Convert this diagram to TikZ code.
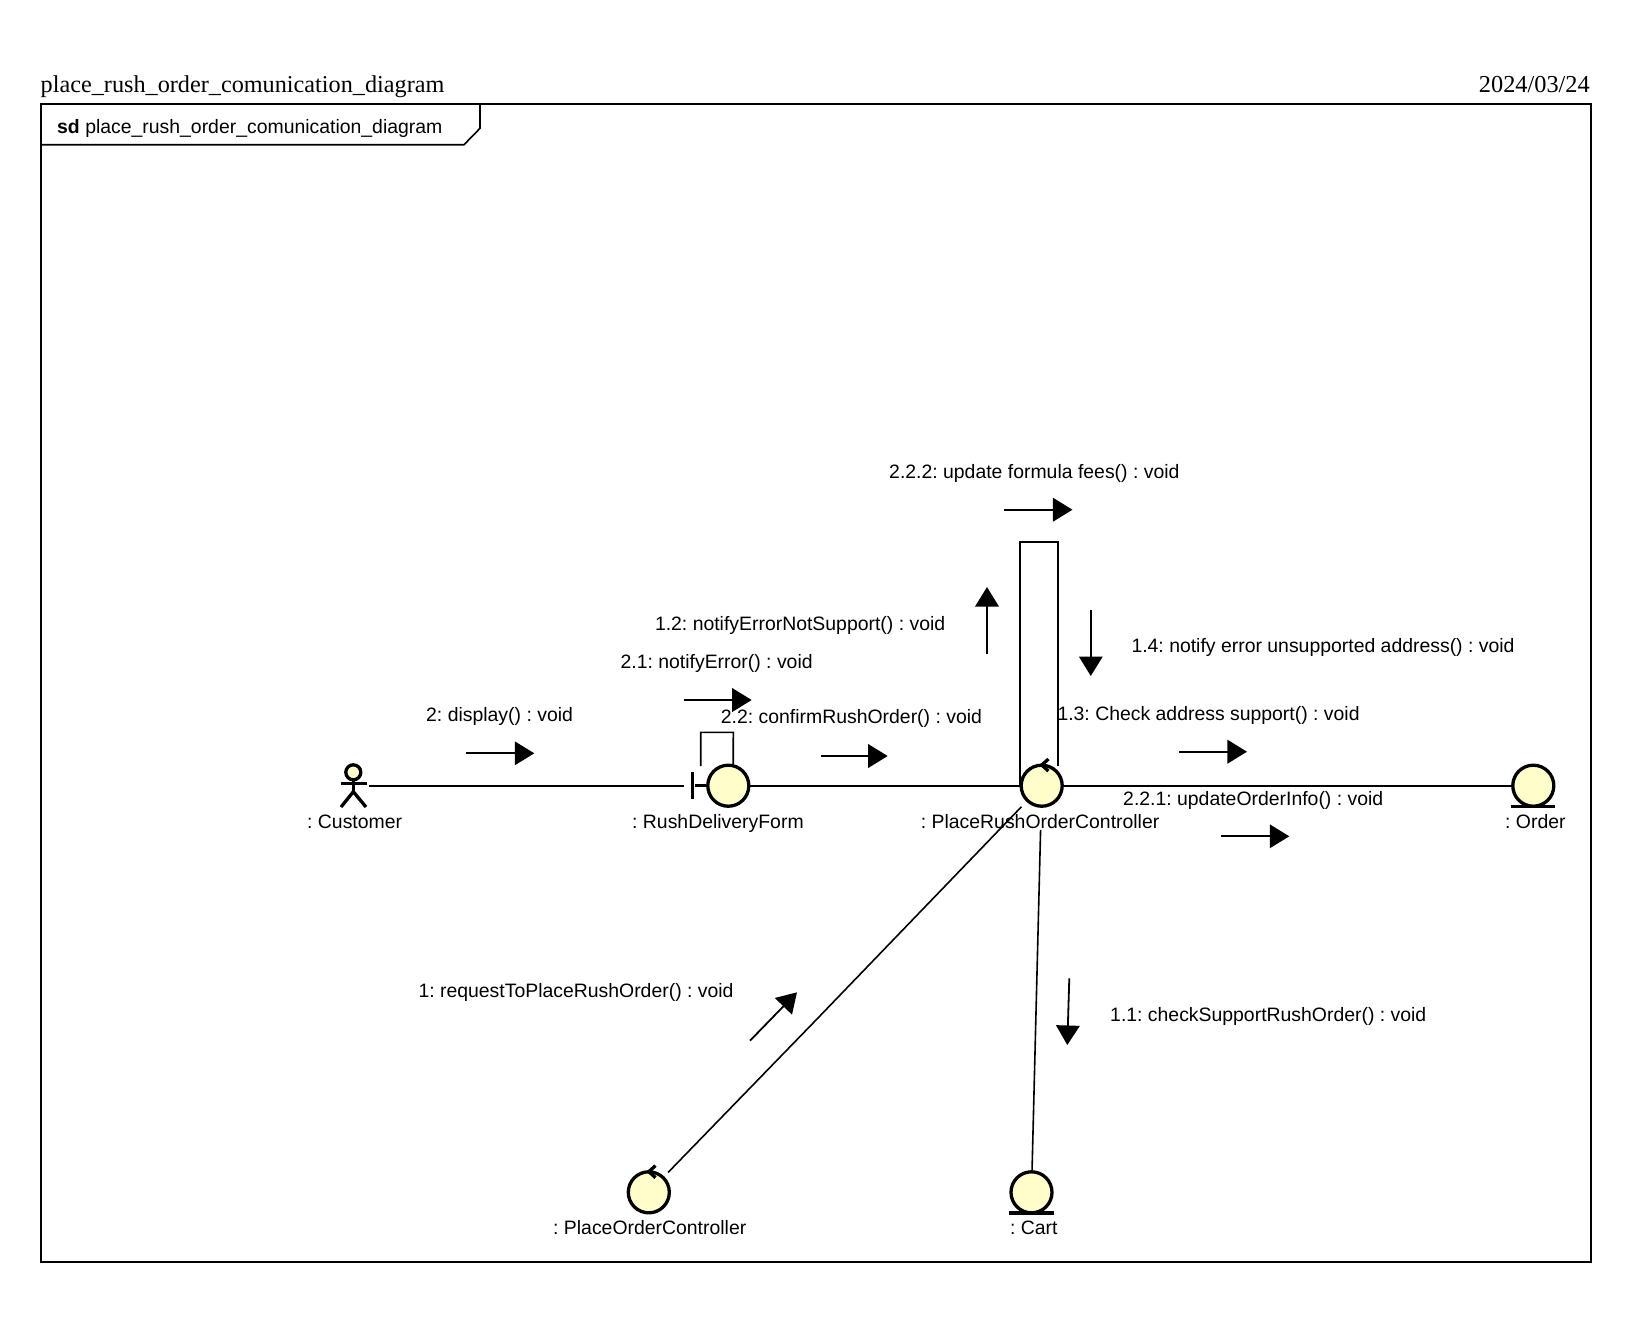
\documentclass[tikz,border=0pt]{standalone}
\usepackage{fontspec}
\setmainfont{Liberation Serif}
\newfontfamily\umlfont{Liberation Sans}
\usetikzlibrary{arrows.meta}
\definecolor{iconfill}{HTML}{FFFFCC}
\tikzset{
	linkline/.style={line width=0.016cm, color=black},
	iconline/.style={line width=0.033cm, color=black},
	msgline/.style={line width=0.018cm, -{Triangle[length=0.195cm,width=0.235cm]}},
	objcircle/.style={circle, draw=black, fill=iconfill, line width=0.033cm, minimum size=0.41cm, inner sep=0},
	msglabel/.style={anchor=base west, inner sep=0, xshift=-0.015cm, font=\umlfont\fontsize{5.52pt}{6.5pt}\selectfont},
	pagelabel/.style={inner sep=0, font=\fontsize{6.92pt}{8pt}\selectfont},
}
\def\msgarrow#1(#2)(#3){\coordinate (#1a) at (#2); \coordinate (#1b) at (#3); \draw[msgline] (#1a) -- (#1b);}
\def\ctrltick#1{\draw[iconline] ([xshift=0.067cm,yshift=0.045cm]#1.north) -- ([yshift=-0.015cm]#1.north) -- ([xshift=0.067cm,yshift=-0.075cm]#1.north);}
\def\entitybar#1{\draw[iconline] ([xshift=-0.22cm,yshift=0.015cm]#1.south) -- ([xshift=0.22cm,yshift=0.015cm]#1.south);}

\begin{document}
\frenchspacing
\begin{tikzpicture}[x=0.01cm, y=-0.01cm]
	%%%%% START %%%%%
	\useasboundingbox (0, 0) rectangle (1638, 1341);

	\node[pagelabel, anchor=base west, font=\fontsize{6.89pt}{8pt}\selectfont] (pagetitle) at (40, 92) {place\_rush\_order\_comunication\_diagram};
	\node[pagelabel, anchor=base east] (pagedate) at (1590.5, 92) {2024/03/24};

	\draw[line width=0.02cm] (41, 103.8) rectangle (1590.7, 1262);
	\draw[linkline] (480, 103.8) -- (480, 128.3) -- (464, 144.7) -- (41, 144.7);
	\node[msglabel] (framelabel) at (58, 133.3) {\textbf{sd} place\_rush\_order\_comunication\_diagram};

	%% objects
	\node[objcircle, minimum size=0.15cm] (customer) at (353.3, 772.3) {};
	\node[objcircle] (form) at (728.3, 785.7) {};
	\node[objcircle] (rushctrl) at (1041.7, 785.7) {};
	\node[objcircle] (order) at (1533.3, 785.7) {};
	\node[objcircle] (orderctrl) at (648.8, 1192.3) {};
	\node[objcircle] (cart) at (1031.5, 1192.3) {};
	\node[fill=black, inner sep=0, minimum width=0.03cm, minimum height=0.27cm] (formbar) at (692.7, 785.7) {};

	\coordinate (customerhand) at (369, 785.7);
	\coordinate (diagbend) at (816.7, 1019.3);

	%% actor
	\draw[iconline] (340.7, 783.7) -- (367, 783.7);
	\draw[iconline] (customer) ++(0, 7.5) -- (353.3, 791.7);
	\draw[iconline] (341, 807) -- (353.3, 791.7) -- (366, 807);

	%% icon details
	\draw[iconline] (formbar) -- (form);
	\ctrltick{rushctrl}
	\ctrltick{orderctrl}
	\entitybar{order}
	\entitybar{cart}

	%% links
	\draw[linkline, shorten >=0.06cm] (customerhand) -- (formbar);
	\draw[linkline] (form) -- (rushctrl);
	\draw[linkline] (rushctrl) -- (order);
	\draw[linkline, shorten <=0.07cm, shorten >=0.055cm] (rushctrl) -- (diagbend) -- (orderctrl);
	\draw[linkline, shorten <=0.22cm] (rushctrl) -- (cart);

	\coordinate (formloopa) at (700.7, 766);
	\draw[linkline] (formloopa) -- (700.7, 732.3) -- (733.3, 732.3) -- (form.77);
	\coordinate (ctrlloopa) at (1020, 785.7);
	\coordinate (ctrlloopb) at (1058, 766);
	\draw[linkline] (ctrlloopa) -- (1020, 541.7) -- (1058, 541.7) -- (ctrlloopb);

	%% messages
	\msgarrow{display}(466.3, 753.3)(534.3, 753.3)
	\msgarrow{notifyerr}(684.3, 700)(751.7, 700)
	\msgarrow{confirm}(821, 756)(887.7, 756)
	\msgarrow{fees}(1004, 509.7)(1072.5, 509.7)
	\msgarrow{notsupport}(987, 654.3)(987, 587)
	\msgarrow{unsupported}(1090.8, 610)(1090.8, 676)
	\msgarrow{checkaddr}(1179, 751.7)(1247, 751.7)
	\msgarrow{updateinfo}(1221, 836.3)(1289.3, 836.3)
	\msgarrow{request}(750, 1040.7)(797, 992.3)
	\msgarrow{checkrush}(1069.3, 978.3)(1067.3, 1045)

	\node[msglabel] (displaylabel) at (427, 721) {2: display() : void};
	\node[msglabel] (notifyerrlabel) at (621.4, 668.3) {2.1: notifyError() : void};
	\node[msglabel] (notsupportlabel) at (655.8, 630) {1.2: notifyErrorNotSupport() : void};
	\node[msglabel] (feeslabel) at (890, 478.3) {2.2.2: update formula fees() : void};
	\node[msglabel] (confirmlabel) at (721.7, 723.8) {2.2: confirmRushOrder() : void};
	\node[msglabel] (unsupportedlabel) at (1132.3, 652.5) {1.4: notify error unsupported address() : void};
	\node[msglabel] (checkaddrlabel) at (1058.3, 720) {1.3: Check address support() : void};
	\node[msglabel] (updateinfolabel) at (1124, 805) {2.2.1: updateOrderInfo() : void};
	\node[msglabel] (requestlabel) at (419.3, 997.2) {1: requestToPlaceRushOrder() : void};
	\node[msglabel] (checkrushlabel) at (1111, 1021) {1.1: checkSupportRushOrder() : void};

	\node[msglabel] (customername) at (308, 828) {: Customer};
	\node[msglabel] (formname) at (633, 828) {: RushDeliveryForm};
	\node[msglabel] (rushctrlname) at (921.7, 828) {: PlaceRushOrderController};
	\node[msglabel] (ordername) at (1506, 828) {: Order};
	\node[msglabel] (orderctrlname) at (554, 1234) {: PlaceOrderController};
	\node[msglabel] (cartname) at (1010.8, 1234) {: Cart};
	%%%%% END %%%%%
\end{tikzpicture}
\end{document}
